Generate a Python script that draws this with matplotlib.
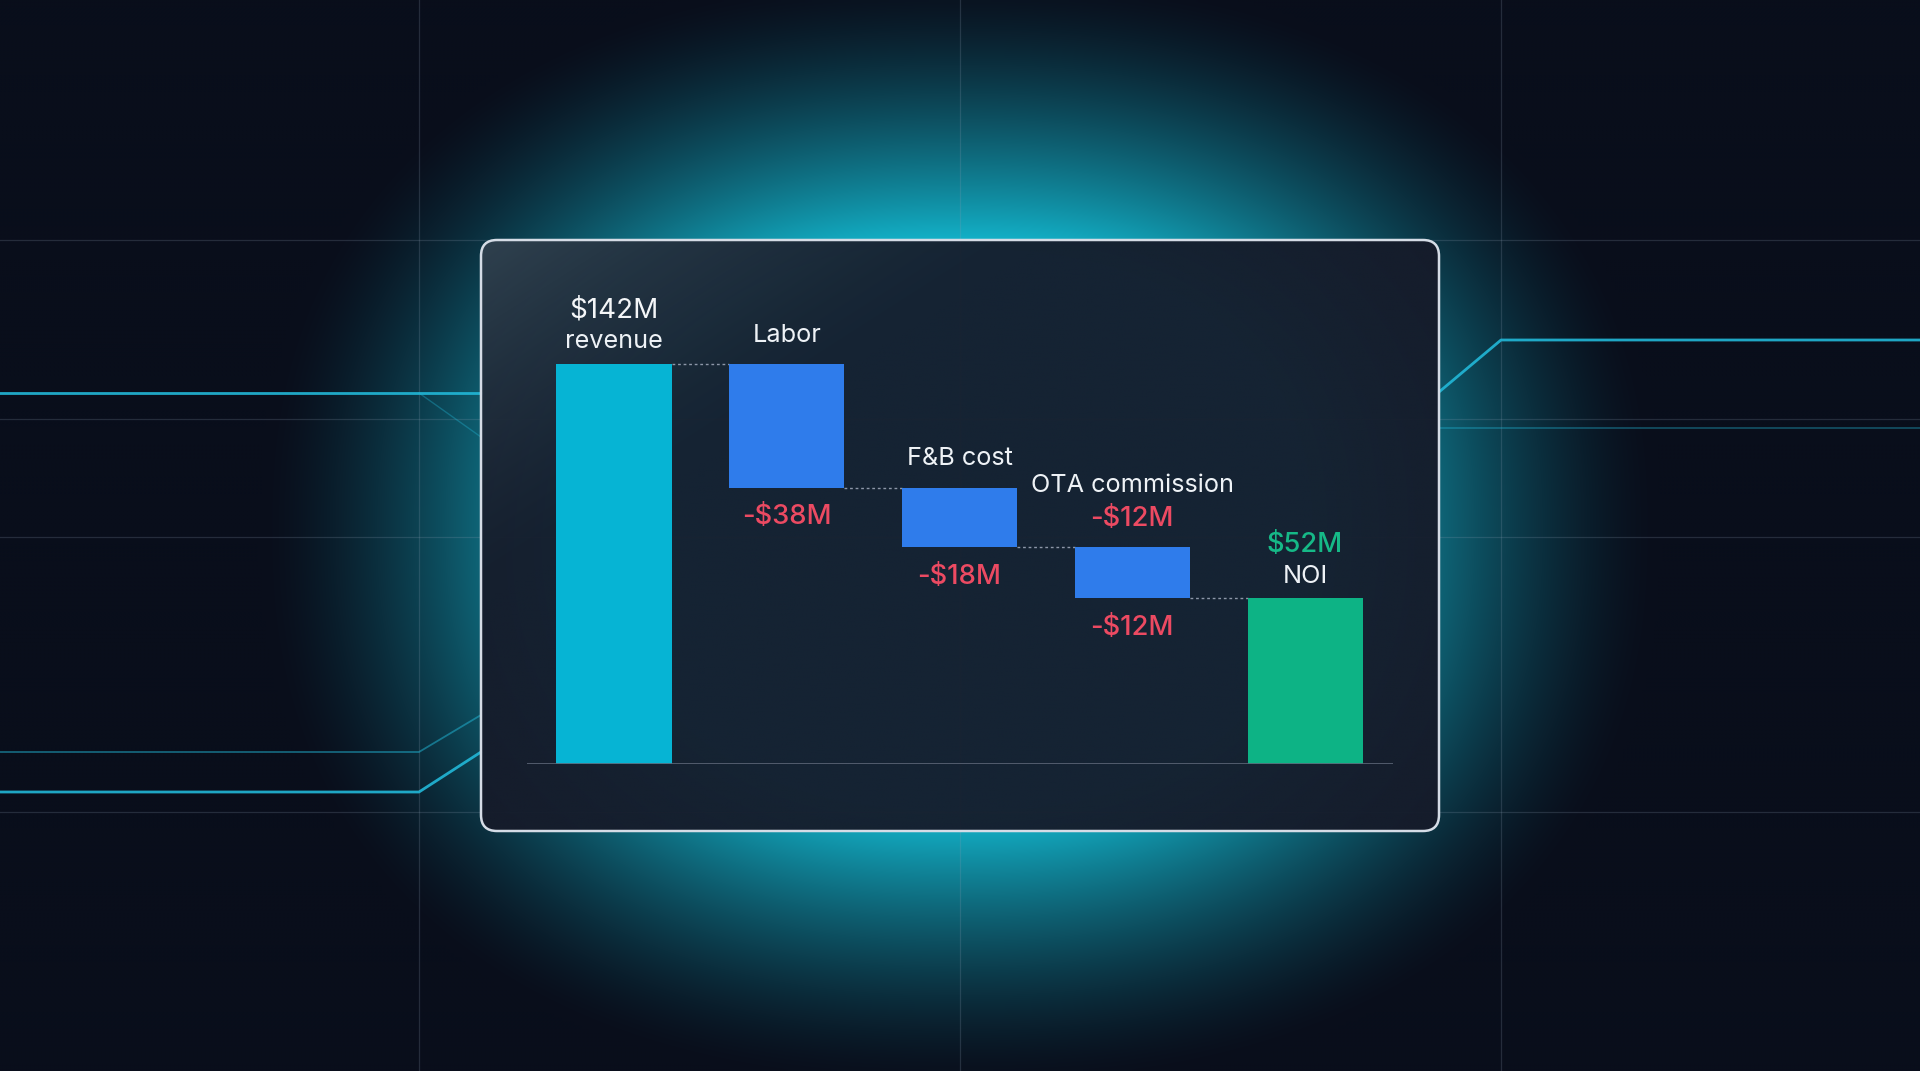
import numpy as np
import matplotlib
matplotlib.use("Agg")
import matplotlib.pyplot as plt
from matplotlib.patches import FancyBboxPatch
from matplotlib.colors import to_rgb

plt.rcParams['font.family'] = ['Inter', 'DejaVu Sans']

# ---- data (bar heights as drawn, labels as printed) ----
names = ["revenue", "Labor", "F&B cost", "OTA commission", "NOI"]
start_value = 142
drops = [44, 21, 18]
top_values = ["$142M", "", "", "-$12M", "$52M"]
bottom_values = ["", "-$38M", "-$18M", "-$12M", ""]

# ---- colours ----
bg_col = np.array(to_rgb("#090e1b"))
glow_col = np.array(to_rgb("#14c4dc"))
panel_col = np.array(to_rgb("#161b2a"))
panel_hi = np.array(to_rgb("#3a4f5c"))
c_rev = "#06b4d4"
c_cost = "#2f7ceb"
c_noi = "#0db385"
c_red = "#ec4a62"
c_green = "#16b987"
grid_c = "#8a9bb0"
line_c = "#22b8d8"

W, H = 1920, 1071
fig = plt.figure(figsize=(W / 100, H / 100), dpi=100)
bg = fig.add_axes([0, 0, 1, 1])
bg.set_xlim(0, W)
bg.set_ylim(H, 0)
bg.axis("off")

# background glow (soft glow behind the panel)
gx, gy = np.meshgrid(np.linspace(0, W, 480), np.linspace(0, H, 268))
p = 2.3
r = (np.abs((gx - 960) / 700) ** p + np.abs((gy - 530) / 560) ** p) ** (1 / p)
inten = np.clip((1 - r) / 0.5, 0, 1) ** 1.5 * 0.95
img = bg_col + (glow_col - bg_col) * inten[..., None]
bg.imshow(np.clip(img, 0, 1), extent=(0, W, H, 0), interpolation="bilinear", zorder=0, aspect="auto")

# faint grid
for y in [240, 419, 537, 812]:
    bg.plot([0, W], [y, y], color=grid_c, lw=0.9, alpha=0.22, zorder=1)
for x in [419, 960, 1501]:
    bg.plot([x, x], [0, H], color=grid_c, lw=0.9, alpha=0.22, zorder=1)

# cyan circuit lines
bg.plot([0, 481], [393, 393], color=line_c, lw=2, alpha=0.9, zorder=2)
bg.plot([419, 481], [393, 437], color=line_c, lw=1, alpha=0.35, zorder=2)
bg.plot([0, 419, 481], [752, 752, 715], color=line_c, lw=1.3, alpha=0.5, zorder=2)
bg.plot([0, 419, 481], [792, 792, 752], color=line_c, lw=2, alpha=0.9, zorder=2)
bg.plot([1439, 1501, W], [392, 340, 340], color=line_c, lw=2, alpha=0.9, zorder=2)
bg.plot([1439, W], [428, 428], color=line_c, lw=1.2, alpha=0.4, zorder=2)

# panel
px0, py0, pw, ph = 481, 240, 958, 591
px, py = np.meshgrid(np.linspace(px0, px0 + pw, 240), np.linspace(py0, py0 + ph, 150))
w = np.clip(1 - ((px - px0) / 560 + (py - py0) / 360), 0, 1) ** 1.5 * 0.75
pimg = panel_col + (panel_hi - panel_col) * w[..., None]
box = FancyBboxPatch((px0, py0), pw, ph, boxstyle="round,pad=0,rounding_size=16",
                     transform=bg.transData, facecolor="none", edgecolor="none")
bg.add_patch(box)
im = bg.imshow(pimg, extent=(px0, px0 + pw, py0 + ph, py0), interpolation="bilinear",
               zorder=3, aspect="auto", alpha=0.95)
im.set_clip_path(box)
bg.add_patch(FancyBboxPatch((px0, py0), pw, ph, boxstyle="round,pad=0,rounding_size=16",
                            facecolor="none", edgecolor="#d5dce6", lw=1.8, zorder=4))
bg.set_xlim(0, W)
bg.set_ylim(H, 0)

# ---- waterfall chart ----
base_px, top_px = 764, 364
ppu = (base_px - top_px) / start_value
ax_top_px = 290
ax = fig.add_axes([527 / W, (H - base_px) / H, (1393 - 527) / W, (base_px - ax_top_px) / H])
ax.set_facecolor("none")
ax.set_xlim(-0.5036, 4.509)
ax.set_ylim(0, (base_px - ax_top_px) / ppu)
ax.axis("off")

levels = [start_value]
for d in drops:
    levels.append(levels[-1] - d)
bottoms = [0] + levels[1:] + [0]
heights = [start_value] + drops + [levels[-1]]
colors = [c_rev] + [c_cost] * len(drops) + [c_noi]
x = np.arange(len(names))
bw = 0.666
ax.bar(x, heights, bottom=bottoms, width=bw, color=colors, zorder=3)

# dotted connectors between bars
for i in range(len(names) - 1):
    ax.plot([x[i] + bw / 2, x[i + 1] - bw / 2], [levels[i], levels[i]],
            color="#8d97a8", lw=1, ls=(0, (2, 2)), zorder=2)

ax.axhline(0, color="#5c6677", lw=1.2, zorder=4)

name_off = [16, 22, 23, 55, 15]
topv_off = [46, 0, 0, 21, 46]
botv_off = [0, 36, 37, 37, 0]
for i in range(len(names)):
    top = bottoms[i] + heights[i]
    ax.annotate(names[i], (x[i], top), xytext=(0, name_off[i]), textcoords="offset pixels",
                ha="center", va="baseline", color="#eef2f6", fontsize=18.2)
    if top_values[i]:
        col = "#f4f6f8" if i == 0 else (c_red if top_values[i].startswith("-") else c_green)
        ax.annotate(top_values[i], (x[i], top), xytext=(0, topv_off[i]), textcoords="offset pixels",
                    ha="center", va="baseline", color=col, fontsize=20 if i == 0 else 19.7,
                    fontweight="normal" if i == 0 else "medium")
    if bottom_values[i]:
        ax.annotate(bottom_values[i], (x[i], bottoms[i]), xytext=(0, -botv_off[i]), textcoords="offset pixels",
                    ha="center", va="baseline", color=c_red, fontsize=19.7, fontweight="medium")

fig.savefig("out.png", dpi=100, facecolor=bg_col)
